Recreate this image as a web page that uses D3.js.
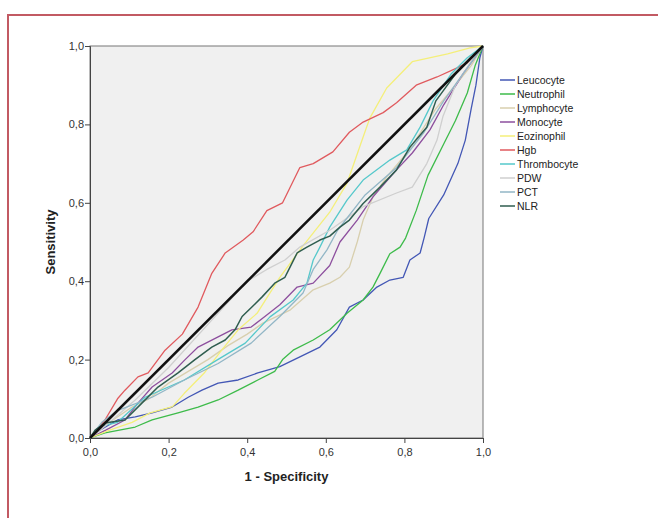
<!DOCTYPE html>
<html>
<head>
<meta charset="utf-8">
<script src="https://cdn.jsdelivr.net/npm/d3@7"></script>
<style>
  body { margin: 0; background: #fff; }
  svg { display: block; }
</style>
</head>
<body>
<svg id="chart" width="658" height="518"></svg>
<script>
// ROC curves, values as [1 - specificity, sensitivity]
const seriesNames = ["Leucocyte", "Neutrophil", "Lymphocyte", "Monocyte", "Eozinophil",
  "Hgb", "Thrombocyte", "PDW", "PCT", "NLR"];
const seriesColors = ["#4357b5", "#3dbb4a", "#d8cfae", "#8d4f9e", "#f4ef7a",
  "#e05a5e", "#55c8cb", "#cfcfcf", "#92b6c6", "#2f5d4f"];

const leucocyte = [[0,0],[0.013,0.013],[0.07,0.046],[0.115,0.054],[0.158,0.064],[0.209,0.079],
  [0.25,0.104],[0.285,0.122],[0.326,0.14],[0.377,0.148],[0.427,0.166],[0.483,0.182],[0.534,0.207],
  [0.585,0.232],[0.628,0.276],[0.66,0.334],[0.695,0.352],[0.73,0.385],[0.763,0.403],[0.797,0.41],
  [0.814,0.454],[0.84,0.472],[0.85,0.51],[0.862,0.56],[0.9,0.62],[0.936,0.7],[0.955,0.76],
  [0.97,0.84],[0.982,0.9],[0.992,0.97],[1,1]];
const neutrophil = [[0,0],[0.038,0.013],[0.115,0.028],[0.158,0.046],[0.224,0.064],[0.275,0.079],
  [0.326,0.097],[0.377,0.122],[0.427,0.148],[0.47,0.17],[0.49,0.2],[0.517,0.224],[0.568,0.25],
  [0.61,0.276],[0.654,0.318],[0.695,0.352],[0.72,0.385],[0.738,0.42],[0.763,0.47],[0.789,0.487],
  [0.803,0.51],[0.83,0.58],[0.86,0.67],[0.9,0.75],[0.93,0.81],[0.96,0.88],[0.98,0.95],[1,1]];
const lymphocyte = [[0,0],[0.05,0.04],[0.107,0.079],[0.15,0.1],[0.2,0.14],[0.25,0.17],[0.3,0.2],
  [0.35,0.235],[0.4,0.265],[0.44,0.293],[0.51,0.327],[0.568,0.378],[0.61,0.395],[0.636,0.41],
  [0.66,0.436],[0.68,0.5],[0.695,0.556],[0.72,0.615],[0.755,0.666],[0.806,0.727],[0.84,0.778],
  [0.88,0.84],[0.93,0.9],[0.97,0.95],[1,1]];
const monocyte = [[0,0],[0.04,0.02],[0.089,0.046],[0.122,0.089],[0.158,0.13],[0.209,0.166],
  [0.242,0.2],[0.275,0.232],[0.326,0.258],[0.361,0.276],[0.41,0.283],[0.445,0.31],[0.483,0.34],
  [0.527,0.385],[0.568,0.395],[0.61,0.44],[0.636,0.5],[0.68,0.556],[0.72,0.615],[0.78,0.684],
  [0.82,0.727],[0.865,0.786],[0.9,0.85],[0.95,0.93],[1,1]];
const eozinophil = [[0,0],[0.05,0.02],[0.107,0.04],[0.153,0.064],[0.21,0.08],[0.24,0.114],
  [0.29,0.165],[0.335,0.224],[0.377,0.276],[0.425,0.318],[0.483,0.41],[0.542,0.49],[0.61,0.576],
  [0.654,0.65],[0.695,0.768],[0.712,0.816],[0.755,0.893],[0.82,0.96],[0.91,0.98],[0.967,0.995],[1,1]];
const hgb = [[0,0],[0.038,0.046],[0.07,0.1],[0.089,0.122],[0.122,0.156],[0.148,0.166],
  [0.191,0.224],[0.235,0.265],[0.275,0.334],[0.31,0.42],[0.344,0.472],[0.39,0.505],[0.415,0.526],
  [0.45,0.58],[0.49,0.6],[0.534,0.69],[0.568,0.7],[0.618,0.73],[0.66,0.78],[0.695,0.806],
  [0.746,0.83],[0.78,0.855],[0.83,0.9],[0.883,0.921],[0.934,0.944],[0.96,0.957],[1,1]];
const thrombocyte = [[0,0],[0.03,0.03],[0.07,0.04],[0.14,0.104],[0.24,0.148],[0.325,0.2],
  [0.395,0.242],[0.458,0.309],[0.517,0.352],[0.552,0.395],[0.568,0.454],[0.585,0.487],
  [0.61,0.538],[0.654,0.607],[0.695,0.658],[0.763,0.709],[0.806,0.735],[0.84,0.793],
  [0.873,0.86],[0.92,0.93],[0.96,0.97],[1,1]];
const pdw = [[0,0],[0.05,0.04],[0.115,0.097],[0.2,0.18],[0.3,0.29],[0.4,0.4],[0.45,0.43],
  [0.496,0.454],[0.534,0.487],[0.61,0.53],[0.695,0.59],[0.78,0.625],[0.82,0.64],[0.857,0.7],
  [0.883,0.76],[0.898,0.82],[0.93,0.9],[0.97,0.96],[1,1]];
const pct = [[0,0],[0.03,0.04],[0.07,0.07],[0.158,0.104],[0.24,0.148],[0.326,0.19],[0.41,0.242],
  [0.483,0.31],[0.542,0.37],[0.568,0.43],[0.603,0.48],[0.63,0.53],[0.7,0.62],[0.78,0.69],
  [0.85,0.78],[0.9,0.86],[0.95,0.93],[1,1]];
const nlr = [[0,0],[0.013,0.02],[0.038,0.038],[0.089,0.046],[0.132,0.089],[0.173,0.13],
  [0.224,0.166],[0.267,0.2],[0.31,0.232],[0.344,0.25],[0.369,0.276],[0.387,0.31],[0.412,0.334],
  [0.438,0.36],[0.47,0.395],[0.496,0.41],[0.509,0.436],[0.527,0.472],[0.552,0.487],[0.585,0.505],
  [0.61,0.515],[0.636,0.538],[0.66,0.556],[0.695,0.598],[0.738,0.64],[0.78,0.684],[0.814,0.742],
  [0.857,0.793],[0.88,0.86],[0.934,0.934],[1,1]];
const seriesValues = [leucocyte, neutrophil, lymphocyte, monocyte, eozinophil,
  hgb, thrombocyte, pdw, pct, nlr];

const reference = [[0,0],[1,1]];
const tickValues = [0, 0.2, 0.4, 0.6, 0.8, 1.0];

const svg = d3.select("#chart");
const font = "'Liberation Sans', Arial, sans-serif";

// outer red frame (runs off the right and bottom edges)
svg.append("rect")
  .attr("x", 8).attr("y", 15)
  .attr("width", 700).attr("height", 560)
  .attr("fill", "none")
  .attr("stroke", "#c25a63")
  .attr("stroke-width", 2);

const plotLeft = 90, plotRight = 483, plotTop = 46, plotBottom = 438;
const x = d3.scaleLinear().domain([0, 1]).range([plotLeft, plotRight]);
const y = d3.scaleLinear().domain([0, 1]).range([plotBottom, plotTop]);

// plot background
svg.append("rect")
  .attr("x", plotLeft).attr("y", plotTop)
  .attr("width", plotRight - plotLeft).attr("height", plotBottom - plotTop)
  .attr("fill", "#f0f0f0")
  .attr("stroke", "#777")
  .attr("stroke-width", 1);

const fmt = d => d3.format(".1f")(d).replace(".", ",");

const xAxis = svg.append("g")
  .attr("transform", `translate(0,${plotBottom})`)
  .call(d3.axisBottom(x).tickValues(tickValues).tickFormat(fmt).tickSizeOuter(0).tickSize(5));
const yAxis = svg.append("g")
  .attr("transform", `translate(${plotLeft},0)`)
  .call(d3.axisLeft(y).tickValues(tickValues).tickFormat(fmt).tickSizeOuter(0).tickSize(5));

[xAxis, yAxis].forEach(g => {
  g.select(".domain").attr("stroke", "#444");
  g.selectAll(".tick line").attr("stroke", "#444");
  g.selectAll(".tick text")
    .attr("fill", "#333")
    .style("font-family", font)
    .style("font-size", "11px");
});
xAxis.selectAll(".tick text").attr("dy", "0.9em");
yAxis.selectAll(".tick text").attr("x", -6);

// axis titles
svg.append("text")
  .attr("x", (plotLeft + plotRight) / 2).attr("y", 481)
  .attr("text-anchor", "middle")
  .style("font-family", font).style("font-size", "13px").style("font-weight", "bold")
  .attr("fill", "#222")
  .text("1 - Specificity");
svg.append("text")
  .attr("transform", `translate(55,${(plotTop + plotBottom) / 2}) rotate(-90)`)
  .attr("text-anchor", "middle")
  .style("font-family", font).style("font-size", "13px").style("font-weight", "bold")
  .attr("fill", "#222")
  .text("Sensitivity");

const line = d3.line()
  .x(d => x(d[0]))
  .y(d => y(d[1]));

const curves = svg.append("g");
seriesValues.forEach((vals, i) => {
  curves.append("path")
    .datum(vals)
    .attr("d", line)
    .attr("fill", "none")
    .attr("stroke", seriesColors[i])
    .attr("stroke-width", i === 9 ? 1.5 : 1.3)
    .attr("stroke-linejoin", "round");
});

// diagonal reference line
curves.append("path")
  .datum(reference)
  .attr("d", line)
  .attr("fill", "none")
  .attr("stroke", "#111")
  .attr("stroke-width", 2.5);

// legend
const legend = svg.append("g").attr("transform", "translate(500,80)");
seriesNames.forEach((name, i) => {
  const g = legend.append("g").attr("transform", `translate(0,${i * 14})`);
  g.append("line")
    .attr("x1", 0).attr("x2", 15)
    .attr("stroke", seriesColors[i])
    .attr("stroke-width", 1.5);
  g.append("text")
    .attr("x", 17).attr("y", 4)
    .style("font-family", font).style("font-size", "10.5px")
    .attr("fill", "#222")
    .text(name);
});
</script>
</body>
</html>
